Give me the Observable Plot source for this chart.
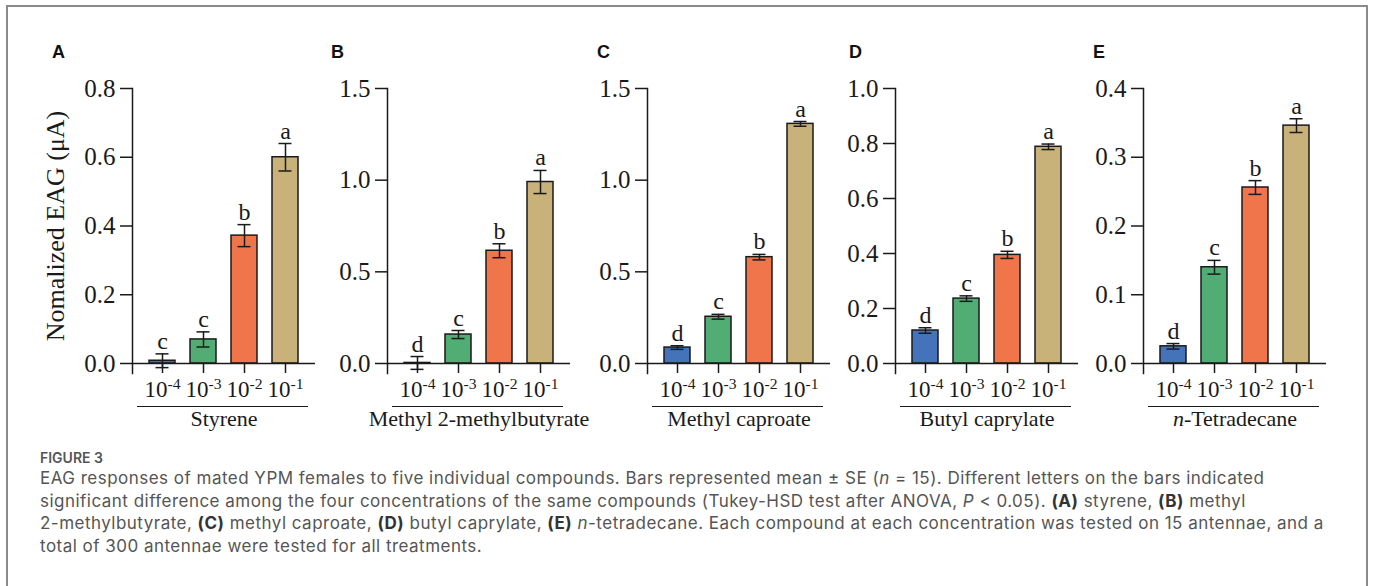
<!DOCTYPE html>
<html><head><meta charset="utf-8">
<script src="https://cdn.jsdelivr.net/npm/d3@7"></script>
<script src="https://cdn.jsdelivr.net/npm/@observablehq/plot@0.6"></script>
<style>
body{margin:0;background:#fff;width:1373px;height:586px;overflow:hidden;position:relative;}
#frame{position:absolute;left:6px;top:5px;width:1362px;height:700px;border:2px solid #8a8a8a;box-sizing:border-box;}
.panel{position:absolute;top:0;}
.plabel{position:absolute;font-family:"Liberation Sans",Arial,sans-serif;font-weight:bold;font-size:18px;line-height:18px;color:#111;}
.fig{position:absolute;left:40px;top:450px;font-family:Inter,"Open Sans",sans-serif;color:#555;font-size:14px;line-height:16px;font-weight:600;white-space:nowrap;}
.ln{position:absolute;left:40px;font-family:Inter,"Open Sans",sans-serif;color:#555;white-space:nowrap;font-size:17px;line-height:20px;letter-spacing:0.48px;}
.ln b{color:#333;}
</style>
</head><body>
<div id="frame"></div>
<div id="panels"></div>
<div class="fig">FIGURE 3</div>
<div class="ln" style="top:468px">EAG responses of mated YPM females to five individual compounds. Bars represented mean ± SE (<i>n</i> = 15). Different letters on the bars indicated</div>
<div class="ln" style="top:490.5px">significant difference among the four concentrations of the same compounds (Tukey-HSD test after ANOVA, <i>P</i> &lt; 0.05). <b>(A)</b> styrene, <b>(B)</b> methyl</div>
<div class="ln" style="top:513px">2-methylbutyrate, <b>(C)</b> methyl caproate, <b>(D)</b> butyl caprylate, <b>(E)</b> <i>n</i>-tetradecane. Each compound at each concentration was tested on 15 antennae, and a</div>
<div class="ln" style="top:535.5px">total of 300 antennae were tested for all treatments.</div>
<script>
// ---- data ----
const exponents = ["-4", "-3", "-2", "-1"];
const panelLetters = ["A", "B", "C", "D", "E"];
const compounds = ["Styrene", "Methyl 2-methylbutyrate", "Methyl caproate", "Butyl caprylate", "n-Tetradecane"];
const italicPrefix = ["", "", "", "", "n"];
const yTitle = "Nomalized EAG (μA)";
const meanA = [0.008, 0.070, 0.372, 0.600];
const seA   = [0.020, 0.022, 0.032, 0.040];
const sigA  = ["c", "c", "b", "a"];
const meanB = [0.003, 0.158, 0.615, 0.990];
const seB   = [0.035, 0.022, 0.038, 0.063];
const sigB  = ["d", "c", "b", "a"];
const meanC = [0.087, 0.255, 0.580, 1.307];
const seC   = [0.010, 0.013, 0.015, 0.013];
const sigC  = ["d", "c", "b", "a"];
const meanD = [0.120, 0.236, 0.395, 0.788];
const seD   = [0.010, 0.010, 0.013, 0.010];
const sigD  = ["d", "c", "b", "a"];
const meanE = [0.025, 0.140, 0.256, 0.346];
const seE   = [0.004, 0.010, 0.010, 0.010];
const sigE  = ["d", "c", "b", "a"];
const yMaxes = [0.8, 1.5, 1.5, 1.0, 0.4];
const yTickSets = [[0, 0.2, 0.4, 0.6, 0.8], [0, 0.5, 1.0, 1.5], [0, 0.5, 1.0, 1.5], [0, 0.2, 0.4, 0.6, 0.8, 1.0], [0, 0.1, 0.2, 0.3, 0.4]];
const barColors = ["#4573B9", "#52AD74", "#F0754B", "#C8B27A"];

// ---- layout ----
const means = [meanA, meanB, meanC, meanD, meanE];
const ses = [seA, seB, seC, seD, seE];
const sigs = [sigA, sigB, sigC, sigD, sigE];
const axisXs = [132, 387, 647, 895, 1143];
const letterXs = [52, 331, 597, 849, 1093];
const innerW = 183;
const serif = "Liberation Serif";

const container = document.getElementById("panels");
for (let i = 0; i < 5; i++) {
  const data = exponents.map((e, j) => ({conc: e, mean: means[i][j], se: ses[i][j], sig: sigs[i][j]}));
  const mL = i === 0 ? 132 : 100;
  const mR = 40;
  const plot = Plot.plot({
    width: mL + innerW + mR, height: 440,
    marginLeft: mL, marginRight: mR, marginTop: 88, marginBottom: 77,
    style: {background: "transparent", overflow: "visible", fontFamily: serif, color: "#1a1a1a"},
    x: {domain: exponents, padding: 0.36, label: null},
    y: {domain: [0, yMaxes[i]], label: null},
    color: {domain: exponents, range: barColors},
    marks: [
      Plot.axisY({ticks: yTickSets[i], tickSize: 12, tickPadding: 5, fontSize: 25, tickFormat: d3.format(".1f"), label: null, strokeWidth: 1.5}),
      Plot.axisX({tickSize: 10, tickPadding: 7, fontSize: 23, tickFormat: d => "10" + d, label: null, strokeWidth: 1.5}),
      Plot.barY(data, {x: "conc", y: "mean", fill: "conc", stroke: "#1a1a1a", strokeWidth: 1.5}),
      Plot.ruleX(data, {x: "conc", y1: d => d.mean - d.se, y2: d => d.mean + d.se, stroke: "#1a1a1a", strokeWidth: 1.5}),
      Plot.tickY(data, {x: "conc", y: d => d.mean + d.se, stroke: "#1a1a1a", strokeWidth: 1.5, inset: 6.5}),
      Plot.tickY(data, {x: "conc", y: d => d.mean - d.se, stroke: "#1a1a1a", strokeWidth: 1.5, inset: 6.5}),
      Plot.ruleY([0], {stroke: "#1a1a1a", strokeWidth: 1.5}),
      Plot.frame({anchor: "left", stroke: "#1a1a1a", strokeWidth: 1.5, insetBottom: -10}),
      Plot.text(data, {x: "conc", y: d => d.mean + d.se, text: "sig", lineAnchor: "bottom", dy: -5, fontSize: 24, fill: "#1a1a1a"}),
      Plot.ruleY([0], {dy: 43, insetLeft: 5, insetRight: 7, stroke: "#1a1a1a", strokeWidth: 1.2}),
      Plot.text([compounds[i]], {frameAnchor: "bottom", dy: 55, lineAnchor: "middle", fontSize: 22, fill: "#1a1a1a"}),
      i === 0 ? Plot.text([yTitle], {frameAnchor: "left", dx: -77, rotate: -90, textAnchor: "middle", lineAnchor: "middle", fontSize: 26, fill: "#1a1a1a"}) : null
    ]
  });
  plot.classList.add("panel");
  plot.style.left = (axisXs[i] - mL) + "px";
  container.appendChild(plot);
  // superscript tick labels
  plot.querySelectorAll('g[aria-label="x-axis tick label"] text').forEach(t => {
    const s = t.textContent;
    if (s.startsWith("10")) {
      t.textContent = "";
      const base = document.createElementNS("http://www.w3.org/2000/svg", "tspan");
      base.textContent = "10";
      const sup = document.createElementNS("http://www.w3.org/2000/svg", "tspan");
      sup.textContent = s.slice(2);
      sup.setAttribute("dy", "-0.5em");
      sup.setAttribute("font-size", "0.68em");
      t.appendChild(base); t.appendChild(sup);
    }
  });
  // italic prefix in compound name
  if (italicPrefix[i]) {
    plot.querySelectorAll("text").forEach(t => {
      if (t.textContent === compounds[i]) {
        t.textContent = "";
        const it = document.createElementNS("http://www.w3.org/2000/svg", "tspan");
        it.textContent = italicPrefix[i];
        it.setAttribute("font-style", "italic");
        const rest = document.createElementNS("http://www.w3.org/2000/svg", "tspan");
        rest.textContent = compounds[i].slice(italicPrefix[i].length);
        t.appendChild(it); t.appendChild(rest);
      }
    });
  }
  const lab = document.createElement("div");
  lab.className = "plabel";
  lab.textContent = panelLetters[i];
  lab.style.left = letterXs[i] + "px";
  lab.style.top = "43px";
  document.body.appendChild(lab);
}
</script>
</body></html>
